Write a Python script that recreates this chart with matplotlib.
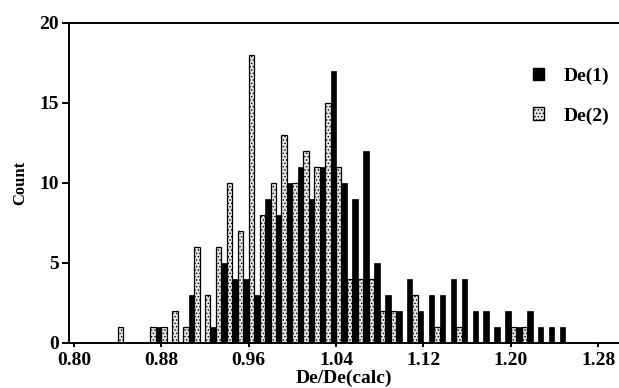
import matplotlib
matplotlib.use('Agg')
import matplotlib.pyplot as plt
from matplotlib.patches import Patch

# histogram bins, 0.01 wide, left edges from 0.84 to 1.24
bin_left = [0.84, 0.85, 0.86, 0.87, 0.88, 0.89, 0.90, 0.91, 0.92, 0.93,
            0.94, 0.95, 0.96, 0.97, 0.98, 0.99, 1.00, 1.01, 1.02, 1.03,
            1.04, 1.05, 1.06, 1.07, 1.08, 1.09, 1.10, 1.11, 1.12, 1.13,
            1.14, 1.15, 1.16, 1.17, 1.18, 1.19, 1.20, 1.21, 1.22, 1.23, 1.24]

de1 = [0, 0, 0, 1, 0, 0, 3, 0, 1, 5,
       4, 4, 3, 9, 8, 10, 11, 9, 11, 17,
       10, 9, 12, 5, 3, 2, 4, 2, 3, 3,
       4, 4, 2, 2, 1, 2, 1, 2, 1, 1, 1]

de2 = [1, 0, 0, 1, 1, 2, 1, 6, 3, 6,
       10, 7, 18, 8, 10, 13, 10, 12, 11, 15,
       11, 4, 4, 4, 2, 2, 0, 3, 0, 1,
       0, 1, 0, 0, 0, 0, 1, 1, 0, 0, 0]

xticks = [0.80, 0.88, 0.96, 1.04, 1.12, 1.20, 1.28]
yticks = [0, 5, 10, 15, 20]

plt.rcParams['font.family'] = ['Liberation Serif', 'DejaVu Serif']
plt.rcParams['font.weight'] = 'bold'
plt.rcParams['hatch.linewidth'] = 0.6

fig = plt.figure(figsize=(6.19, 3.88), dpi=100)
ax = fig.add_axes([0.1107, 0.117, 0.889, 0.824])

w = 0.005
x2 = [b + w / 2 for b in bin_left]
x1 = [b + 1.5 * w for b in bin_left]

ax.bar(x2, de2, width=w, color='#e6e6e6', edgecolor='black',
       linewidth=0.9, hatch='.....')
ax.bar(x1, de1, width=w, color='black', edgecolor='black', linewidth=0.5)

ax.set_xlim(0.795, 1.299)
ax.set_ylim(0, 20)
ax.set_xticks(xticks)
ax.set_xticklabels(['%.2f' % t for t in xticks])
ax.set_yticks(yticks)

for s in ['left', 'bottom', 'top']:
    ax.spines[s].set_linewidth(1.4)
ax.spines['right'].set_visible(False)

ax.tick_params(axis='both', direction='out', width=1.4, labelsize=14)
ax.tick_params(axis='y', length=5, pad=2)
ax.tick_params(axis='x', length=3, pad=4)
for lab in ax.get_xticklabels() + ax.get_yticklabels():
    lab.set_fontweight('bold')

ax.set_xlabel('De/De(calc)', fontsize=14, fontweight='bold', labelpad=0)
ax.set_ylabel('Count', fontsize=12, fontweight='bold', labelpad=8)

handles = [Patch(facecolor='black', edgecolor='black'),
           Patch(facecolor='#e6e6e6', edgecolor='black', hatch='.....')]
ax.legend(handles, ['De(1)', 'De(2)'], loc='upper right',
          bbox_to_anchor=(1.015, 0.915), frameon=False, fontsize=14,
          handlelength=0.6, handleheight=0.6, handletextpad=1.0,
          labelspacing=1.15)

fig.savefig('out.png', dpi=100)
